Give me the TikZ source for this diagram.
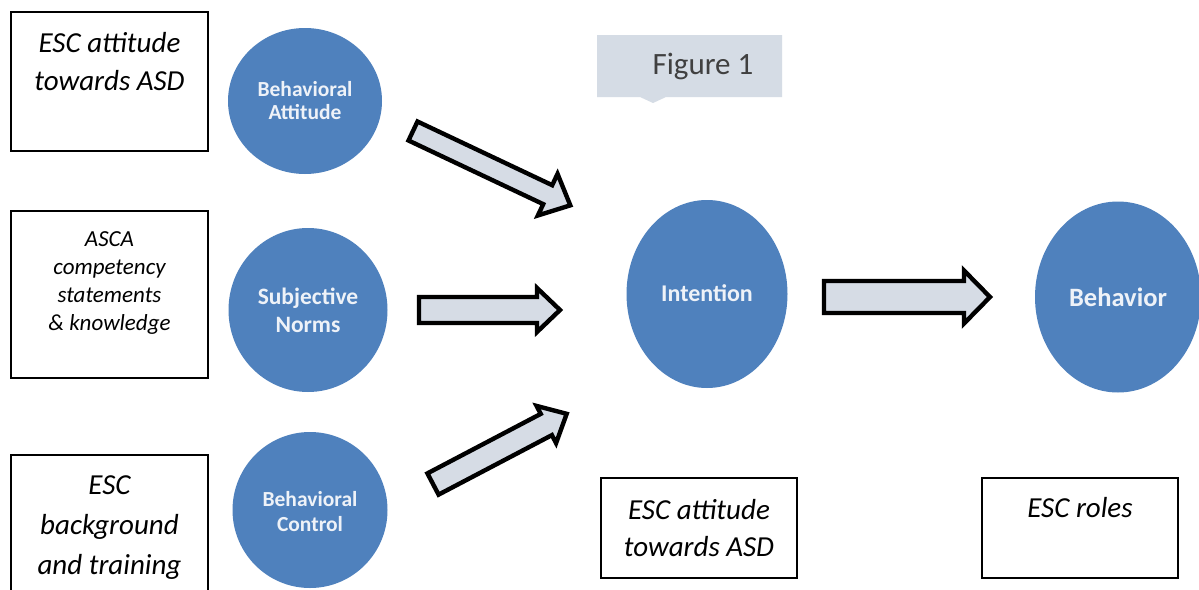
\documentclass[tikz,border=0pt]{standalone}
\usepackage{fontspec}
\setmainfont{Carlito}
\usetikzlibrary{calc,shapes.geometric}
\definecolor{circblue}{HTML}{4F81BD}
\definecolor{arrowfill}{HTML}{D6DCE5}
\definecolor{callfill}{HTML}{D5DCE5}
\definecolor{circtext}{HTML}{EEF2F8}
\definecolor{figtext}{HTML}{404040}
\newcommand{\blockarrow}[7]{% x, y, angle, len, shaft hw, head hw, head len
  \begin{scope}[shift={(#1,#2)}, rotate=#3]
    \draw[blockarr] (0,-#5) -- ({#4-#7},-#5) -- ({#4-#7},-#6) -- (#4,0)
      -- ({#4-#7},#6) -- ({#4-#7},#5) -- (0,#5) -- cycle;
  \end{scope}}
\tikzset{
  box/.style={draw=black, line width=1.3pt, inner sep=0pt},
  boxtext/.style={align=center, font=\itshape},
  circ/.style={ellipse, fill=circblue, inner sep=0pt},
  circtxt/.style={align=center, text=circtext, font=\bfseries},
  blockarr/.style={draw=black, line width=4.4pt, fill=arrowfill, line join=miter},
}
\begin{document}
\begin{tikzpicture}[x=1pt, y=-1pt]
\useasboundingbox (0,0) rectangle (1199,589);
\fill[white] (0,0) rectangle (1199,589);

% left boxes
\node[box, minimum width=197pt, minimum height=139pt] (b1) at (109.5,81.5) {};
\node[boxtext, font=\itshape\fontsize{29}{38}\selectfont] (t1) at (109.5,62) {ESC attitude\\towards ASD};
\node[box, minimum width=197pt, minimum height=167pt] (b2) at (109.5,294.5) {};
\node[boxtext, font=\itshape\fontsize{23}{28}\selectfont] (t2) at (109.5,283) {ASCA\\competency\\statements\\\& knowledge};
\draw[line width=1.3pt] (11,595) -- (11,455) -- (208,455) -- (208,595);
\coordinate (b3) at (109.5,522);
\node[boxtext, font=\itshape\fontsize{29}{40}\selectfont] (t3) at (109.5,528) {ESC\\background\\and training};

% circles
\node[circ, minimum width=154pt, minimum height=146pt] (ba) at (305,101) {};
\node[circtxt, font=\bfseries\fontsize{21.5}{23}\selectfont] at (ba) {Behavioral\\Attitude};
\node[circ, minimum width=159pt, minimum height=164pt] (sn) at (308,310) {};
\node[circtxt, font=\bfseries\fontsize{23.5}{28}\selectfont] at (sn) {Subjective\\Norms};
\node[circ, minimum width=155pt, minimum height=156pt] (bc) at (310,510) {};
\node[circtxt, font=\bfseries\fontsize{21.5}{25}\selectfont] at (310,512) {Behavioral\\Control};
\node[circ, minimum width=161pt, minimum height=188pt] (in) at (707,294) {};
\node[circtxt, font=\bfseries\fontsize{24}{28}\selectfont] at (707,293) {Intention};
\node[circ, minimum width=166pt, minimum height=191pt] (be) at (1118,297) {};
\node[circtxt, font=\bfseries\fontsize{26.5}{28}\selectfont] at (be) {Behavior};

% callout
\fill[callfill] (597,35) -- (782,35) -- (782,97) -- (666,97) -- (653,103) -- (640,97) -- (597,97) -- cycle;
\node[text=figtext, font=\fontsize{31}{32}\selectfont] (fig) at (703,66) {Figure 1};

% block arrows
\blockarrow{413}{131}{-25.3}{174}{10.5}{23}{25}
\blockarrow{419}{310}{0}{141}{13}{22}{23}
\blockarrow{433}{484}{27.7}{151}{12}{21}{23}
\blockarrow{824}{297}{0}{166}{16}{26.5}{26}

% bottom boxes
\node[box, minimum width=196pt, minimum height=100pt] (b4) at (699,528) {};
\node[boxtext, font=\itshape\fontsize{29}{37}\selectfont] at (699,528) {ESC attitude\\towards ASD};
\node[box, minimum width=196pt, minimum height=100pt] (b5) at (1080,528) {};
\node[boxtext, font=\itshape\fontsize{29}{37}\selectfont] at (1080,508) {ESC roles};
\end{tikzpicture}
\end{document}
